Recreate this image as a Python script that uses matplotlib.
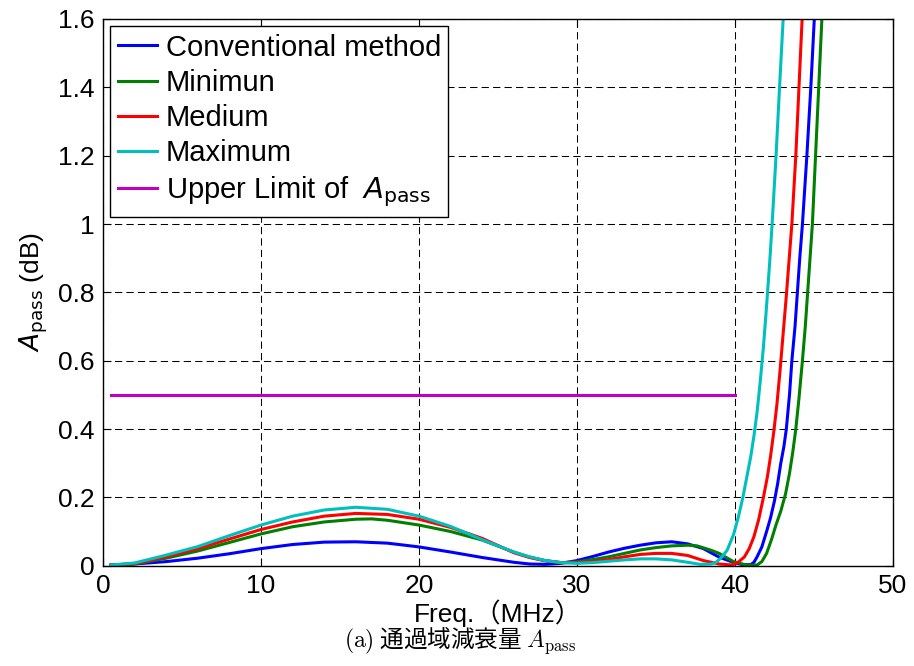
import matplotlib
matplotlib.use("Agg")
import matplotlib.pyplot as plt
from matplotlib.ticker import FormatStrFormatter

plt.rcParams['font.family'] = ['Liberation Sans', 'Noto Sans CJK JP', 'DejaVu Sans']
plt.rcParams['axes.unicode_minus'] = False

# passband attenuation (dB) vs. frequency (MHz)
conv_f = [0.5, 2, 4, 6, 8, 10, 12, 14, 16, 18, 20, 22, 24, 26, 27, 28, 29, 30, 31, 32, 33, 34,
          35, 36, 37, 38, 39, 40, 40.5, 41.0, 41.2, 41.4, 41.7, 42.0, 42.25, 42.5, 42.7, 42.9,
          43.1, 43.25, 43.45, 43.6, 43.8, 43.95, 44.1, 44.27, 44.55, 44.8, 45.02, 45.15]
conv_a = [0.002, 0.005, 0.012, 0.022, 0.035, 0.050, 0.062, 0.069, 0.070, 0.066, 0.055, 0.040,
          0.024, 0.010, 0.005, 0.004, 0.007, 0.015, 0.027, 0.040, 0.051, 0.060, 0.067, 0.070,
          0.064, 0.050, 0.025, 0.008, 0.003, 0.003, 0.010, 0.026, 0.055, 0.10, 0.14, 0.19,
          0.24, 0.30, 0.35, 0.40, 0.50, 0.60, 0.70, 0.80, 0.90, 1.00, 1.20, 1.40, 1.60, 1.70]

min_f = [0.5, 2, 4, 6, 8, 10, 12, 14, 16, 17, 18, 20, 22, 24, 26, 27, 28, 29, 30, 31, 32, 33,
         34, 35, 36, 37, 37.6, 38.5, 39, 39.9, 40.8, 41.4, 41.7, 42.0, 42.3, 42.6, 42.9, 43.2,
         43.45, 43.65, 43.85, 44.05, 44.25, 44.45, 44.6, 44.75, 44.9, 45.1, 45.3, 45.5, 45.65]
min_a = [0.002, 0.005, 0.022, 0.043, 0.068, 0.093, 0.114, 0.128, 0.136, 0.137, 0.133, 0.119,
         0.100, 0.075, 0.040, 0.025, 0.015, 0.009, 0.011, 0.018, 0.026, 0.036, 0.046, 0.053,
         0.058, 0.060, 0.058, 0.045, 0.036, 0.012, 0.001, 0.002, 0.012, 0.036, 0.075, 0.12,
         0.16, 0.21, 0.27, 0.33, 0.40, 0.49, 0.59, 0.70, 0.80, 0.90, 1.00, 1.20, 1.40, 1.60,
         1.70]

med_f = [0.5, 2, 4, 6, 8, 10, 12, 14, 16, 18, 20, 22, 24, 26, 27, 28, 29, 30, 31, 32, 33, 34,
         35, 36, 37, 38, 39, 39.8, 40.2, 40.6, 40.9, 41.2, 41.5, 41.8, 42.05, 42.25, 42.45,
         42.65, 42.85, 43.05, 43.25, 43.45, 43.6, 43.85, 44.05, 44.25, 44.4]
med_a = [0.002, 0.006, 0.026, 0.050, 0.078, 0.106, 0.128, 0.145, 0.153, 0.150, 0.136, 0.112,
         0.080, 0.038, 0.024, 0.014, 0.009, 0.009, 0.012, 0.018, 0.026, 0.033, 0.036, 0.036,
         0.030, 0.015, 0.005, 0.002, 0.010, 0.026, 0.050, 0.085, 0.135, 0.20, 0.26, 0.32,
         0.39, 0.47, 0.57, 0.68, 0.79, 0.91, 1.00, 1.20, 1.40, 1.60, 1.70]

max_f = [0.5, 2, 4, 6, 8, 10, 12, 14, 16, 18, 20, 22, 24, 26, 27, 28, 29, 30, 31, 32, 33, 34,
         35, 36, 37, 37.8, 38.5, 38.8, 39.1, 39.5, 39.9, 40.2, 40.5, 40.75, 41.0, 41.2, 41.4,
         41.6, 41.8, 42.0, 42.2, 42.35, 42.6, 42.82, 43.05, 43.2]
max_a = [0.002, 0.008, 0.031, 0.056, 0.088, 0.119, 0.145, 0.163, 0.171, 0.165, 0.145, 0.115,
         0.076, 0.040, 0.026, 0.015, 0.009, 0.007, 0.009, 0.013, 0.017, 0.020, 0.020, 0.017,
         0.010, 0.004, 0.005, 0.010, 0.022, 0.045, 0.090, 0.14, 0.20, 0.26, 0.32, 0.38, 0.45,
         0.54, 0.64, 0.76, 0.89, 1.00, 1.20, 1.40, 1.60, 1.70]

limit_f = [0.5, 40]
limit_a = [0.5, 0.5]

fig = plt.figure(figsize=(9.14, 6.66), dpi=100)
ax = fig.add_axes([0.1127, 0.1506, 0.8643, 0.8209])

lw = 2.2
ax.plot(conv_f, conv_a, color=(0, 0, 1), lw=lw, label='Conventional method')
ax.plot(min_f, min_a, color=(0, 0.5, 0), lw=lw, label='Minimun')
ax.plot(med_f, med_a, color=(1, 0, 0), lw=lw, label='Medium')
ax.plot(max_f, max_a, color=(0, 0.75, 0.75), lw=lw, label='Maximum')
ax.plot(limit_f, limit_a, color=(0.75, 0, 0.75), lw=lw,
        label=r'Upper Limit of  $\it{A}_{\rm{pass}}$')

ax.set_xlim(0, 50)
ax.set_ylim(0, 1.6)
ax.set_xticks([0, 10, 20, 30, 40, 50])
ax.set_yticks([0, 0.2, 0.4, 0.6, 0.8, 1.0, 1.2, 1.4, 1.6])
ax.yaxis.set_major_formatter(FormatStrFormatter('%g'))
ax.tick_params(direction='in', length=6, width=0.8, top=True, right=True,
               labelsize=19, pad=6)
ax.grid(True, color='k', linestyle=(0, (7, 4)), linewidth=0.75)
for s in ax.spines.values():
    s.set_linewidth(1.0)

ax.set_xlabel('Freq.（MHz）', fontsize=19, labelpad=1)
ax.set_ylabel(r'$\it{A}_{\rm{pass}}$ (dB)', fontsize=19, labelpad=6)

leg = ax.legend(loc='upper left', fontsize=21, frameon=True, fancybox=False,
                edgecolor='k', framealpha=1, borderaxespad=0.25, borderpad=0.25,
                labelspacing=0.25, handlelength=1.35, handletextpad=0.3)
leg.get_frame().set_linewidth(1.0)

fig.text(0.503, 0.038, r'$\mathrm{(a)}$ 通過域減衰量 $A_{\mathrm{pass}}$',
         ha='center', va='center', fontsize=17, math_fontfamily='cm',
         family=['Noto Sans CJK JP', 'DejaVu Sans'])

fig.savefig('out.png', dpi=100)
